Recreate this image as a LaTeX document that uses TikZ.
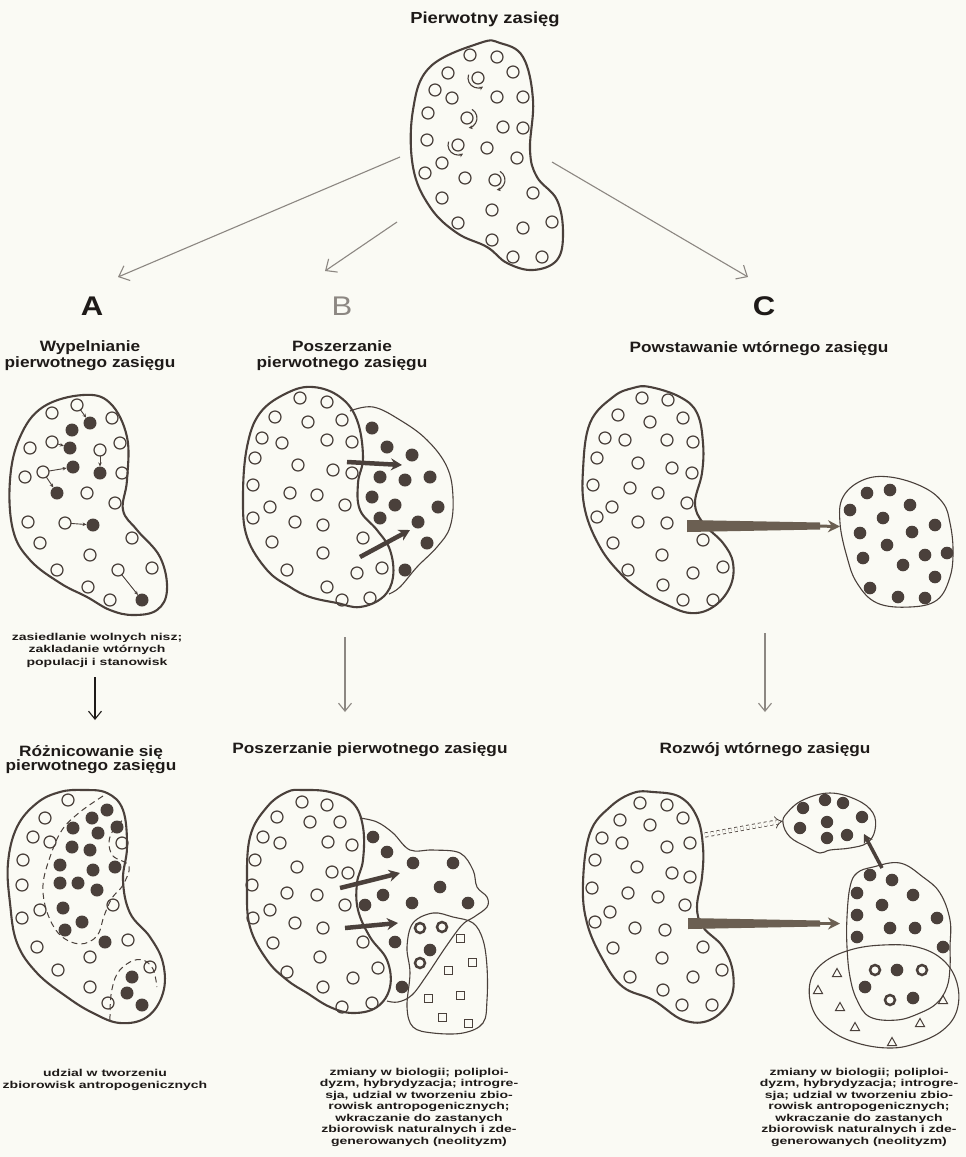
\documentclass[tikz,border=0pt]{standalone}
\usepackage{fontspec}
\setmainfont{Liberation Sans}
\newfontfamily\hf[FakeStretch=1.15]{Liberation Sans}
\newfontfamily\cf[FakeStretch=1.4]{Liberation Sans}
\usetikzlibrary{arrows.meta}
\definecolor{ink}{HTML}{4A403B}
\definecolor{txt}{HTML}{1E1A18}
\definecolor{garr}{HTML}{8C8782}
\definecolor{bg}{HTML}{FAFAF4}
\definecolor{brw}{HTML}{6B5F52}
\begin{document}
\begin{tikzpicture}[x=1pt,y=-1pt,
  outer/.style={draw=ink,line width=2.1pt},
  inner/.style={draw=ink,line width=1.1pt},
  oc/.style={draw=ink,line width=1.25pt},
  fc/.style={fill=ink},
  ringc/.style={draw=ink,line width=2.5pt},
  sym/.style={draw=ink,line width=1pt},
  dsh/.style={draw=ink,line width=1pt,dash pattern=on 6pt off 4pt},
  head/.style={font=\hf\bfseries\fontsize{15}{16}\selectfont,text=txt,align=center,inner sep=0pt},
  capt/.style={font=\cf\bfseries\fontsize{10}{11.5}\selectfont,text=txt,align=center,inner sep=0pt},
  letter/.style={font=\hf\bfseries\fontsize{27}{27}\selectfont,text=txt,inner sep=0pt},
  thinarr/.style={draw=garr,line width=1.1pt,-{Straight Barb[length=9pt,width=16pt]}},
  downarr/.style={line width=1.1pt,-{Straight Barb[length=8pt,width=13pt]}},
  bigarr/.style={draw=ink,line width=4.5pt,-{Stealth[length=11pt,width=12pt]}},
  smallarr/.style={draw=ink,line width=0.9pt,-{Stealth[length=4pt,width=3.5pt]},shorten <=6pt,shorten >=6.5pt},
  curl/.style={draw=ink,line width=1.1pt,-{Stealth[length=4pt,width=4pt]}},
]
\fill[bg] (0,0) rectangle (966,1157);
\useasboundingbox (0,0) rectangle (966,1157);

% ---------- texts ----------
\node[head,font=\hf\bfseries\fontsize{16}{16}\selectfont] (ttl) at (485,19) {Pierwotny zasięg};
\node[letter] (LA) at (92,306) {A};
\node[letter,text=garr,font=\hf\fontsize{27}{27}\selectfont] (LB) at (342,306) {B};
\node[letter] (LC) at (764,306) {C};
\node[head] (hA1) at (90,356) {Wypelnianie\\pierwotnego zasięgu};
\node[head] (hB1) at (342,356) {Poszerzanie\\pierwotnego zasięgu};
\node[head] (hC1) at (759,349) {Powstawanie wtórnego zasięgu};
\node[capt,font=\cf\bfseries\fontsize{10}{12.5}\selectfont] (cA1) at (97,650) {zasiedlanie wolnych nisz;\\zakladanie wtórnych\\populacji i stanowisk};
\node[head,font=\hf\bfseries\fontsize{15}{14}\selectfont] (hA2) at (91,760) {Różnicowanie się\\pierwotnego zasięgu};
\node[head] (hB2) at (370,750) {Poszerzanie pierwotnego zasięgu};
\node[head] (hC2) at (765,750) {Rozwój wtórnego zasięgu};
\node[capt] (cA2) at (105,1080) {udzial w tworzeniu\\zbiorowisk antropogenicznych};
\node[capt] (cB) at (419,1107) {zmiany w biologii; poliploi-\\dyzm, hybrydyzacja; introgre-\\sja, udzial w tworzeniu zbio-\\rowisk antropogenicznych;\\wkraczanie do zastanych\\zbiorowisk naturalnych i zde-\\generowanych (neolityzm)};
\node[capt] (cC) at (859,1107) {zmiany w biologii; poliploi-\\dyzm, hybrydyzacja; introgre-\\sja; udzial w tworzeniu zbio-\\rowisk antropogenicznych;\\wkraczanie do zastanych\\zbiorowisk naturalnych i zde-\\generowanych (neolityzm)};

% ---------- top shape ----------
\draw[outer] plot[smooth cycle,tension=0.65] coordinates {(480,43) (500,43) (523,57) (533,100) (530,150) (537,177) (557,200) (563,233) (557,260) (533,270) (507,263) (487,247) (457,233) (430,207) (413,167) (413,110) (430,67)};
\foreach \x/\y in {470/55,497/57,448/73,478/78,513/72,435/90,452/98,497/97,523/97,428/113,467/118,503/127,523/128,427/140,458/145,487/148,442/163,425/173,465/178,495/180,517/158,442/198,533/193,492/210,458/223,523/228,552/222,492/240,513/257,542/257}
  \draw[oc] (\x,\y) circle (6);
\draw[curl] (478,78) ++(200:10) arc[start angle=200,end angle=60,radius=10];
\draw[curl] (467,118) ++(-60:10) arc[start angle=-60,end angle=80,radius=10];
\draw[curl] (458,145) ++(200:10) arc[start angle=200,end angle=60,radius=10];
\draw[curl] (495,180) ++(-60:10) arc[start angle=-60,end angle=80,radius=10];

\coordinate (tL) at (400,157);
\coordinate (tM) at (397,222);
\coordinate (tR) at (552,162);
\coordinate (eL) at (118,277);
\coordinate (eM) at (325,271);
\coordinate (eR) at (748,277);
\draw[thinarr] (tL) -- (eL);
\draw[thinarr] (tM) -- (eM);
\draw[thinarr] (tR) -- (eR);

% ---------- A top ----------
\draw[outer] plot[smooth cycle,tension=0.65] coordinates {(83,395) (110,403) (127,437) (127,480) (123,510) (137,530) (160,557) (167,590) (157,610) (133,615) (110,610) (87,597) (60,583) (30,560) (13,530) (10,480) (20,437) (43,407)};
\foreach \x/\y in {77/405,52/413,112/418,52/442,30/448,100/450,120/443,25/477,43/472,122/473,87/493,115/503,28/522,65/523,40/543,132/538,90/555,57/570,118/570,152/568,88/587,110/600}
  \draw[oc] (\x,\y) circle (6);
\foreach \x/\y in {90/423,72/430,70/448,73/467,100/473,57/493,93/525,142/600}
  \fill[fc] (\x,\y) circle (6.5);
\draw[smallarr] (77,405) -- (90,423);
\draw[smallarr] (52,442) -- (70,448);
\draw[smallarr] (43,472) -- (73,467);
\draw[smallarr] (43,472) -- (57,493);
\draw[smallarr] (100,450) -- (100,473);
\draw[smallarr] (65,523) -- (93,525);
\draw[smallarr] (118,570) -- (142,600);

% ---------- B top ----------
\draw[inner] plot[smooth,tension=0.65] coordinates {(350,411) (373,407) (400,420) (427,440) (447,467) (453,497) (450,527) (437,547) (417,567) (400,587) (389,594)};
\draw[outer] plot[smooth cycle,tension=0.65] coordinates {(313,387) (340,397) (357,420) (363,457) (358,483) (360,510) (377,530) (390,550) (393,577) (383,597) (360,607) (337,603) (310,597) (290,587) (267,570) (247,537) (243,497) (247,447) (260,413) (287,393)};
\foreach \x/\y in {300/398,327/402,275/417,308/422,342/420,262/438,282/443,327/440,352/442,255/458,298/465,333/470,352/473,253/485,290/493,317/495,270/507,345/505,253/518,295/522,323/525,272/542,363/538,323/553,287/570,382/568,357/573,327/587,342/600,370/598}
  \draw[oc] (\x,\y) circle (6);
\foreach \x/\y in {372/428,387/447,412/455,380/477,405/480,430/477,372/497,395/505,438/507,380/518,418/522,427/543,405/570}
  \fill[fc] (\x,\y) circle (6.5);
\draw[bigarr] (347,462) -- (402,465);
\draw[bigarr] (360,557) -- (410,530);

% ---------- C top ----------
\draw[outer] plot[smooth cycle,tension=0.65] coordinates {(650,387) (680,397) (697,413) (703,443) (702,473) (695,503) (703,523) (723,543) (733,563) (730,587) (713,607) (690,613) (663,603) (640,590) (620,573) (600,547) (585,510) (583,470) (590,423) (613,397) (633,388)};
\foreach \x/\y in {642/398,668/400,618/415,650/422,683/418,605/438,625/440,667/440,693/442,597/458,638/463,672/468,692/473,593/485,630/488,658/493,612/507,687/503,597/517,638/522,667/523,613/543,703/540,662/555,628/570,693/573,723/567,663/585,683/600,713/600}
  \draw[oc] (\x,\y) circle (6);
\draw[inner] plot[smooth cycle,tension=0.65] coordinates {(863,480) (890,477) (923,487) (943,503) (950,523) (953,550) (950,577) (937,600) (910,607) (877,603) (857,583) (847,557) (840,523) (843,497)};
\foreach \x/\y in {867/493,890/490,850/510,910/505,883/518,860/533,912/532,935/525,887/545,863/558,903/565,925/555,947/553,935/577,870/588,898/597,925/598}
  \fill[fc] (\x,\y) circle (6.3);
\fill[brw] (687,520) -- (820,522.5) -- (820,529.5) -- (687,532) -- cycle;
\draw[brw,line width=3pt,-{Stealth[length=12pt,width=12pt]}] (815,526) -- (840,526.5);

% ---------- down arrows ----------
\coordinate (dA1) at (95,677);
\coordinate (dA2) at (95,720);
\coordinate (dB1) at (345,637);
\coordinate (dB2) at (345,712);
\coordinate (dC1) at (765,633);
\coordinate (dC2) at (765,712);
\draw[downarr,draw=txt] (dA1) -- (dA2);
\draw[downarr,draw=garr] (dB1) -- (dB2);
\draw[downarr,draw=garr] (dC1) -- (dC2);

% ---------- A bottom ----------
\draw[outer] plot[smooth cycle,tension=0.65] coordinates {(83,790) (107,793) (123,810) (127,847) (123,880) (130,913) (150,937) (163,963) (163,993) (147,1017) (120,1023) (93,1013) (67,997) (37,973) (17,943) (10,903) (8,863) (17,827) (37,803) (60,792)};
\foreach \x/\y in {68/800,45/818,33/837,50/842,122/843,23/860,22/885,40/910,22/918,113/905,37/947,90/957,128/940,58/970,90/987,150/967,108/1003}
  \draw[oc] (\x,\y) circle (6);
\foreach \x/\y in {107/810,92/818,117/827,73/828,98/833,72/847,90/850,60/865,93/870,115/867,60/883,78/883,97/890,63/908,82/922,65/930,105/942,132/977,127/993,142/1005}
  \fill[fc] (\x,\y) circle (6.5);
\draw[dsh] plot[smooth,tension=0.6] coordinates {(103,796) (80,812) (62,830) (50,857) (43,885) (47,912) (60,935) (80,944) (97,936) (104,916) (112,898) (123,885) (129,866) (113,856) (109,842) (114,829) (125,818)};
\draw[dsh] plot[smooth,tension=0.6] coordinates {(110,1020) (111,995) (117,974) (130,962) (143,960) (153,969) (157,987)};

% ---------- B bottom ----------
\draw[inner] plot[smooth,tension=0.6] coordinates {(360,818) (377,822) (393,833) (410,850) (433,850) (460,853) (473,870) (477,887) (487,897) (487,907) (474,917) (462,925) (445,948) (427,975) (412,995) (398,1002) (387,1001)};
\draw[inner] plot[smooth cycle,tension=0.6] coordinates {(413,923) (433,913) (453,917) (473,923) (483,940) (487,967) (487,1000) (483,1023) (463,1033) (433,1033) (413,1027) (407,1007) (410,973) (407,947)};
\draw[outer] plot[smooth cycle,tension=0.65] coordinates {(303,790) (330,792) (353,803) (363,827) (363,860) (357,883) (358,910) (370,937) (387,960) (390,987) (377,1007) (353,1013) (330,1007) (307,993) (287,980) (267,960) (250,927) (247,887) (250,837) (267,807) (287,792)};
\foreach \x/\y in {302/802,327/805,277/817,310/822,340/822,263/837,280/843,328/842,352/845,255/860,297/867,332/872,348/873,252/885,287/893,317/895,270/910,345/905,253/918,295/923,323/928,273/943,363/942,320/957,378/968,287/972,353/978,323/987,342/1007,372/1003}
  \draw[oc] (\x,\y) circle (6);
\foreach \x/\y in {373/837,387/852,413/863,453/863,440/887,383/895,412/903,468/903,365/905,395/942,430/950,402/987}
  \fill[fc] (\x,\y) circle (6.3);
\foreach \x/\y in {420/928,442/927,420/963}
  \draw[ringc] (\x,\y) circle (5);
\foreach \x/\y in {460/938,472/962,448/970,428/998,460/995,442/1017,468/1023}
  \draw[sym] (\x-4,\y-4) rectangle (\x+4,\y+4);
\draw[bigarr] (340,888) -- (400,873);
\draw[bigarr] (345,928) -- (398,923);

% ---------- C bottom ----------
\draw[outer] plot[smooth cycle,tension=0.65] coordinates {(653,792) (680,797) (697,817) (703,847) (702,877) (697,907) (703,927) (723,947) (733,973) (730,1000) (710,1020) (683,1020) (653,1000) (623,987) (603,960) (587,923) (583,883) (590,833) (610,807) (633,793)};
\foreach \x/\y in {640/803,667/805,620/820,650/825,683/818,602/838,622/843,667/847,690/843,595/860,637/867,672/873,690/877,592/888,628/893,658/897,610/912,685/905,595/922,635/928,665/930,613/948,703/947,662/958,630/977,693/977,722/970,663/990,682/1005,712/1005}
  \draw[oc] (\x,\y) circle (6);
\draw[inner] plot[smooth cycle,tension=0.65] coordinates {(803,800) (830,793) (857,800) (873,813) (875,830) (867,843) (850,848) (830,850) (820,853) (807,847) (790,837) (783,823) (787,813)};
\foreach \x/\y in {803/808,825/800,843/803,862/817,800/828,827/822,827/838,847/835}
  \fill[fc] (\x,\y) circle (6.2);
\draw[inner] plot[smooth cycle,tension=0.65] coordinates {(857,873) (873,867) (900,863) (923,877) (940,893) (950,920) (950,947) (950,967) (947,987) (937,1003) (920,1013) (897,1020) (870,1017) (857,1000) (850,977) (847,947) (847,917) (850,887)};
\draw[inner] plot[smooth cycle,tension=0.65] coordinates {(823,963) (850,950) (883,945) (917,947) (943,960) (957,983) (957,1010) (943,1030) (917,1043) (890,1048) (857,1043) (830,1030) (813,1010) (810,983)};
\foreach \x/\y in {870/875,892/880,857/893,913/895,882/905,857/915,937/918,890/928,915/928,857/937,943/947,897/970,865/987,913/998}
  \fill[fc] (\x,\y) circle (6.3);
\foreach \x/\y in {875/970,922/970,890/1000}
  \draw[ringc] (\x,\y) circle (5);
\foreach \x/\y in {837/973,818/990,840/1007,855/1027,943/1000,920/1023,892/1042}
  \draw[sym] (\x-4.5,\y+3.5) -- (\x+4.5,\y+3.5) -- (\x,\y-4.5) -- cycle;
\draw[ink,line width=0.8pt,dashed,double=bg,double distance=3.5pt,-{Implies}] (705,835) -- (783,821);
\fill[brw] (688,918) -- (820,920.5) -- (820,926.5) -- (688,929) -- cycle;
\draw[brw,line width=3pt,-{Stealth[length=12pt,width=12pt]}] (815,923.5) -- (840,923.5);
\draw[ink,line width=3.5pt,-{Stealth[length=9pt,width=10pt]}] (882,868) -- (864,834);
\end{tikzpicture}
\end{document}
